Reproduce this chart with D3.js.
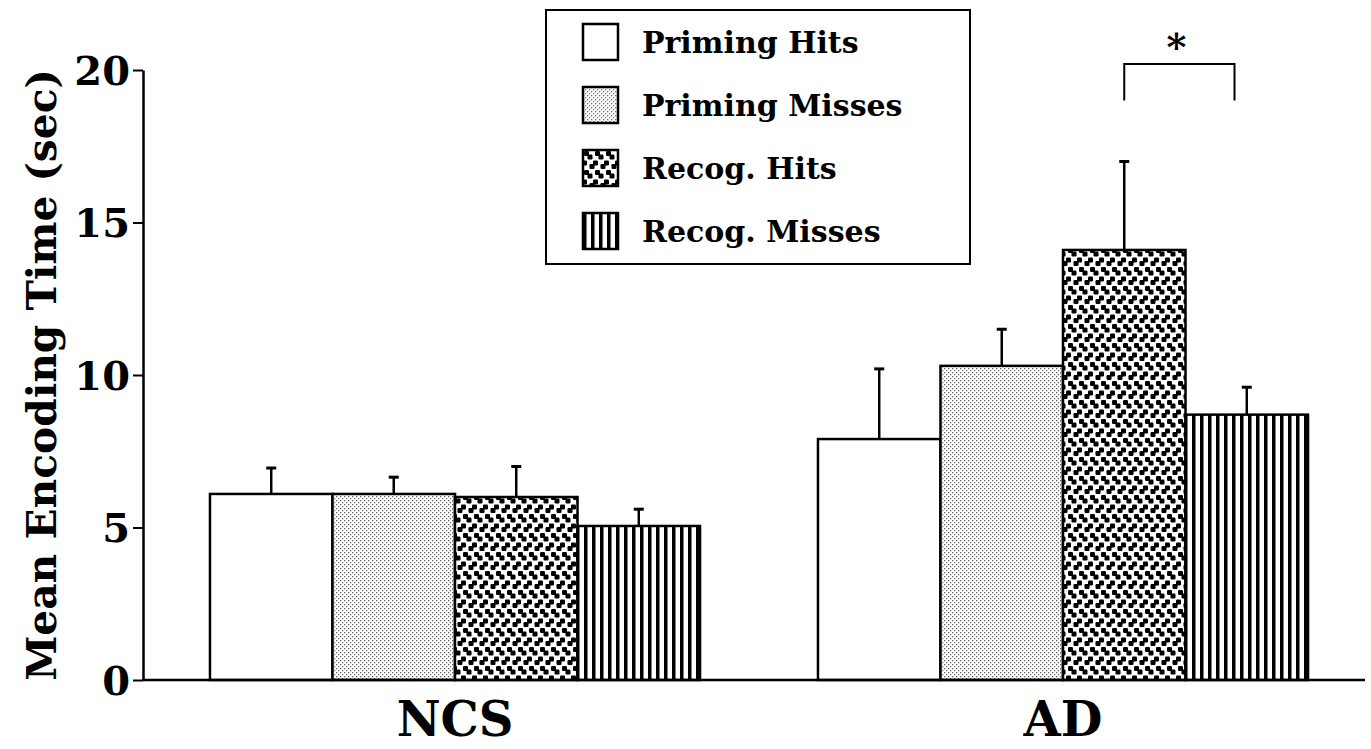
<!DOCTYPE html>
<html>
<head>
<meta charset="utf-8">
<script src="https://cdn.jsdelivr.net/npm/d3@7"></script>
<style>
  body { margin: 0; background: #fff; }
  svg { display: block; }
  text { font-family: "DejaVu Serif", "Liberation Serif", serif; font-weight: bold; fill: #000; }
</style>
</head>
<body>
<svg id="chart" width="1371" height="749"></svg>
<script>
// Mean encoding time by later test outcome, for controls (NCS) and AD patients
const groups = ["NCS", "AD"];
const conditions = ["Priming Hits", "Priming Misses", "Recog. Hits", "Recog. Misses"];
const ncsMeans  = [6.1, 6.1, 6.0, 5.05];
const ncsErrors = [0.85, 0.55, 1.0, 0.55];
const adMeans   = [7.9, 10.3, 14.1, 8.7];
const adErrors  = [2.3, 1.2, 2.9, 0.9];
const yTicks = [0, 5, 10, 15, 20];
const yTitle = "Mean Encoding Time (sec)";
const sigGroup = "AD";
const sigFrom = "Recog. Hits";
const sigTo = "Recog. Misses";
const sigLabel = "*";

const means = { NCS: ncsMeans, AD: adMeans };
const errors = { NCS: ncsErrors, AD: adErrors };
const rows = groups.flatMap(g => conditions.map((c, i) => ({
  group: g, cond: c, idx: i, mean: means[g][i], err: errors[g][i]
})));

const svg = d3.select("#chart");
const defs = svg.append("defs");

// Fill patterns: blank, fine stipple, blotchy dots, vertical stripes
const stip = defs.append("pattern").attr("id", "pat1")
  .attr("patternUnits", "userSpaceOnUse").attr("width", 4).attr("height", 4);
stip.append("rect").attr("width", 4).attr("height", 4).attr("fill", "#fff");
stip.append("rect").attr("x", 0).attr("y", 0).attr("width", 1.3).attr("height", 1.3).attr("fill", "#666");
stip.append("rect").attr("x", 2).attr("y", 2).attr("width", 1.3).attr("height", 1.3).attr("fill", "#777");

// staggered blobs, each made of two offset squares, alternating direction per row
const dots = defs.append("pattern").attr("id", "pat2")
  .attr("patternUnits", "userSpaceOnUse").attr("width", 22).attr("height", 19);
dots.append("rect").attr("width", 22).attr("height", 19).attr("fill", "#fff");
const blob = (x, y, down) => {
  dots.append("rect").attr("x", x).attr("y", down ? y : y + 3.5).attr("width", 5).attr("height", 5)
    .attr("rx", 1.2).attr("fill", "#000");
  dots.append("rect").attr("x", x + 3.5).attr("y", down ? y + 3.5 : y).attr("width", 5).attr("height", 5)
    .attr("rx", 1.2).attr("fill", "#000");
};
[0, 11].forEach(x => blob(x + 1, 1, true));
[-5.5, 5.5, 16.5].forEach(x => blob(x + 1, 10.5, false));

const stripes = defs.append("pattern").attr("id", "pat3")
  .attr("patternUnits", "userSpaceOnUse").attr("width", 8).attr("height", 8);
stripes.append("rect").attr("width", 8).attr("height", 8).attr("fill", "#fff");
stripes.append("rect").attr("x", 0).attr("width", 3.5).attr("height", 8).attr("fill", "#000");

const fills = ["#fff", "url(#pat1)", "url(#pat2)", "url(#pat3)"];

// Scales
const y = d3.scaleLinear().domain([0, 20]).range([680, 70]);
const x0 = d3.scaleBand().domain(groups).range([151, 1367])
  .paddingInner(0.194).paddingOuter(0.097);
const x1 = d3.scaleBand().domain(conditions).range([0, x0.bandwidth()]);

// Bars
const bars = svg.append("g");
bars.selectAll("rect").data(rows).join("rect")
  .attr("x", d => x0(d.group) + x1(d.cond))
  .attr("y", d => y(d.mean))
  .attr("width", x1.bandwidth())
  .attr("height", d => y(0) - y(d.mean))
  .attr("fill", d => fills[d.idx])
  .attr("stroke", "#000").attr("stroke-width", 2.5);

// Upper error bars
const eb = svg.append("g").attr("stroke", "#000");
const cx = d => x0(d.group) + x1(d.cond) + x1.bandwidth() / 2;
eb.selectAll("line.v").data(rows).join("line").attr("class", "v")
  .attr("x1", cx).attr("x2", cx)
  .attr("y1", d => y(d.mean)).attr("y2", d => y(d.mean + d.err))
  .attr("stroke-width", 2.5);
eb.selectAll("line.c").data(rows).join("line").attr("class", "c")
  .attr("x1", d => cx(d) - 5).attr("x2", d => cx(d) + 5)
  .attr("y1", d => y(d.mean + d.err)).attr("y2", d => y(d.mean + d.err))
  .attr("stroke-width", 3);

// Y axis
const yAxis = svg.append("g").attr("transform", "translate(143,0)")
  .call(d3.axisLeft(y).tickValues(yTicks).tickSize(10).tickSizeOuter(0).tickPadding(3));
yAxis.select(".domain").attr("stroke-width", 2.5);
yAxis.selectAll(".tick line").attr("stroke-width", 2);
yAxis.selectAll(".tick text").attr("font-size", 40).attr("dy", "0.36em")
  .style("font-family", "DejaVu Serif").style("font-weight", "bold");

// X axis baseline and group labels
svg.append("line").attr("x1", 143).attr("x2", 1365).attr("y1", y(0)).attr("y2", y(0))
  .attr("stroke", "#000").attr("stroke-width", 2.5);
const xAxis = svg.append("g").attr("transform", `translate(0,${y(0)})`)
  .call(d3.axisBottom(x0).tickSize(0));
xAxis.select(".domain").remove();
xAxis.selectAll(".tick text").attr("font-size", 48).attr("y", 56).attr("dy", 0)
  .style("font-family", "DejaVu Serif").style("font-weight", "bold");

// Y axis title, sized to span the axis
const title = svg.append("text")
  .attr("transform", `translate(56,${(70 + 680) / 2}) rotate(-90)`)
  .attr("text-anchor", "middle").attr("font-size", 40).text(yTitle);
const tl = title.node().getComputedTextLength();
title.attr("font-size", 40 * 612 / tl);

// Significance bracket
const sx1 = x0(sigGroup) + x1(sigFrom) + x1.bandwidth() / 2;
const sx2 = x0(sigGroup) + x1(sigTo) + x1.bandwidth() * 0.4;
svg.append("path")
  .attr("d", `M${sx1},${y(19.0)}V${y(20.2)}H${sx2}V${y(19.0)}`)
  .attr("fill", "none").attr("stroke", "#000").attr("stroke-width", 2);
svg.append("text").attr("x", (sx1 + sx2) / 2 - 3).attr("y", y(20.2) - 4)
  .attr("text-anchor", "middle").attr("font-size", 38).text(sigLabel);

// Legend
const lg = svg.append("g").attr("transform", "translate(546,10)");
lg.append("rect").attr("width", 424).attr("height", 254)
  .attr("fill", "#fff").attr("stroke", "#000").attr("stroke-width", 2);
const item = lg.selectAll("g.item").data(conditions).join("g").attr("class", "item")
  .attr("transform", (d, i) => `translate(37,${14 + i * 63})`);
item.append("rect").attr("width", 35).attr("height", 36)
  .attr("fill", (d, i) => fills[i]).attr("stroke", "#000").attr("stroke-width", 2.5);
item.append("text").attr("x", 59).attr("y", 18).attr("dy", "0.36em")
  .attr("font-size", 30).text(d => d);
</script>
</body>
</html>
